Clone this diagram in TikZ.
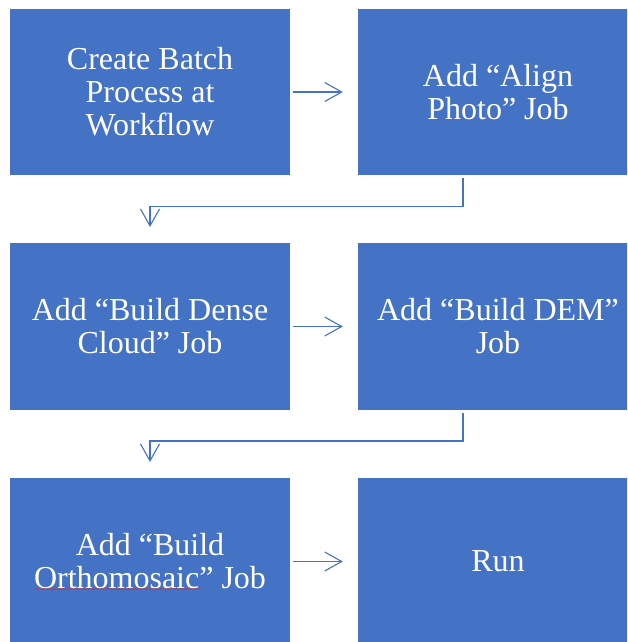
\documentclass[tikz,border=0pt]{standalone}
\usepackage{fontspec}
\setmainfont{Liberation Serif}
\newfontfamily\tnr{Liberation Serif}
\usetikzlibrary{arrows.meta,decorations.pathmorphing}
\definecolor{boxblue}{HTML}{4472C4}
\definecolor{spellred}{HTML}{D03030}
\tikzset{
  stepbox/.style={fill=boxblue, draw=none, minimum width=280pt, minimum height=166.5pt,
    text=white, align=center, inner sep=0pt,
    font=\tnr\fontsize{32}{33}\selectfont},
  arr/.style={draw=boxblue, line width=1.1pt, -{Straight Barb[length=17pt,width=19pt,line width=1.1pt]}}
}
\begin{document}
\begin{tikzpicture}[x=1pt,y=-1pt]
\useasboundingbox (0,0) rectangle (627,642);
\begin{scope}
\clip (0,0) rectangle (627,642);
\node[stepbox] (a) at (150,92) {Create Batch\\Process at\\Workflow};
\node[stepbox] (b) at (498,92) {Add “Align\\Photo” Job};
\node[stepbox] (c) at (150,326.5) {Add “Build Dense\\Cloud” Job};
\node[stepbox] (d) at (498,326.5) {Add “Build DEM”\\Job};
\node[stepbox] (e) at (150,561.5) {Add “Build\\Orthomosaic” Job};
\node[stepbox] (f) at (498,561.5) {Run};
\end{scope}
\draw[arr] ([xshift=3pt]a.east) -- ([xshift=-15pt]b.west);
\draw[arr] ([xshift=3pt]c.east) -- ([xshift=-15pt]d.west);
\draw[arr] ([xshift=3pt]e.east) -- ([xshift=-15pt]f.west);
\draw[arr] ([xshift=-35pt,yshift=-3pt]b.south) -- ++(0,28) -| ([yshift=16pt]c.north);
\draw[arr] ([xshift=-35pt,yshift=-3pt]d.south) -- ++(0,28) -| ([yshift=16pt]e.north);
\coordinate (w1) at (35,589);
\coordinate (w2) at (200,589);
\draw[spellred, line width=0.5pt, decorate, decoration={snake, amplitude=0.6pt, segment length=3pt}] (w1) -- (w2);
\end{tikzpicture}
\end{document}
